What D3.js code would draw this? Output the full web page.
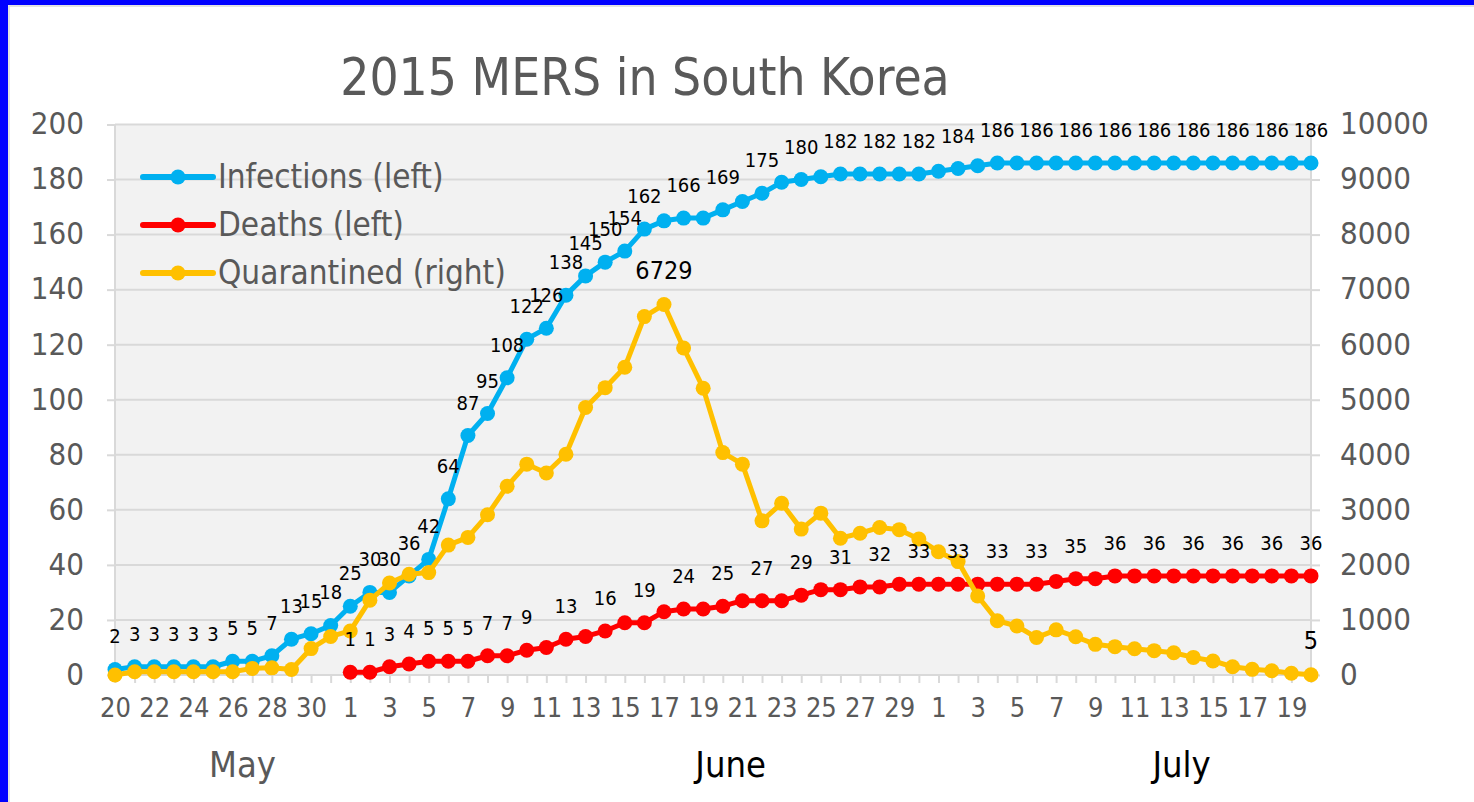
<!DOCTYPE html>
<html>
<head>
<meta charset="utf-8">
<script src="https://cdn.jsdelivr.net/npm/d3@7"></script>
<style>
    body { margin: 0; background: #fff; }
    svg text { font-family: "DejaVu Sans Condensed", "DejaVu Sans", sans-serif; font-stretch: condensed; }
</style>
</head>
<body>
<script>
// category axis: one entry per day, May 20 .. July 20
const days = [20, 21, 22, 23, 24, 25, 26, 27, 28, 29, 30, 31,
    1, 2, 3, 4, 5, 6, 7, 8, 9, 10, 11, 12, 13, 14, 15, 16, 17, 18, 19, 20,
    21, 22, 23, 24, 25, 26, 27, 28, 29, 30,
    1, 2, 3, 4, 5, 6, 7, 8, 9, 10, 11, 12, 13, 14, 15, 16, 17, 18, 19, 20];
const months = ["May", "June", "July"];

const infections = [2, 3, 3, 3, 3, 3, 5, 5, 7, 13, 15, 18,
    25, 30, 30, 36, 42, 64, 87, 95, 108, 122, 126, 138, 145, 150, 154, 162, 165, 166, 166, 169,
    172, 175, 179, 180, 181, 182, 182, 182, 182, 182,
    183, 184, 185, 186, 186, 186, 186, 186, 186, 186, 186, 186, 186, 186, 186, 186, 186, 186, 186, 186];
const deaths = [null, null, null, null, null, null, null, null, null, null, null, null,
    1, 1, 3, 4, 5, 5, 5, 7, 7, 9, 10, 13, 14, 16, 19, 19, 23, 24, 24, 25,
    27, 27, 27, 29, 31, 31, 32, 32, 33, 33,
    33, 33, 33, 33, 33, 33, 34, 35, 35, 36, 36, 36, 36, 36, 36, 36, 36, 36, 36, 36];
const quarantined = [0, 60, 60, 60, 60, 60, 60, 120, 130, 100, 480, 700,
    800, 1360, 1670, 1830, 1860, 2360, 2500, 2910, 3430, 3830, 3670, 4010, 4860, 5220, 5590, 6510, 6729, 5940, 5210, 4040,
    3830, 2800, 3120, 2650, 2940, 2485, 2575, 2680, 2640, 2470,
    2240, 2060, 1435, 986, 890, 680, 820, 695, 557, 515, 478, 442, 405, 320, 255, 150, 103, 78, 31, 5];

const leftTicks = [0, 20, 40, 60, 80, 100, 120, 140, 160, 180, 200];
const rightTicks = [0, 1000, 2000, 3000, 4000, 5000, 6000, 7000, 8000, 9000, 10000];

const W = 1474, H = 802;
const plot = { left: 115, right: 1311, top: 124.5, bottom: 675 };
const monthAnchor = [6.5, 31.4, 54.4];   // where the month captions sit, in day index
const monthColor = ["#595959", "#000", "#000"];

const series = [
    { name: "Infections (left)", values: infections, color: "#00b0f0", axis: "left",
      label: i => i <= 27 || i % 2 === 1, labelSize: 20 },
    { name: "Deaths (left)", values: deaths, color: "#ff0000", axis: "left",
      label: i => (i >= 12 && i <= 21) || (i >= 23 && i % 2 === 1), labelSize: 20 },
    { name: "Quarantined (right)", values: quarantined, color: "#ffc000", axis: "right",
      label: i => i === 28 || i === 61, labelSize: 25 }
];

let svg = d3.select("body").append("svg").attr("width", W).attr("height", H);

// frame: blue edge and thin chart border
svg.append("rect").attr("x", 9).attr("y", 6).attr("width", W).attr("height", H)
    .attr("fill", "#fff").attr("stroke", "#d9d9d9").attr("stroke-width", 1.5);
svg.append("rect").attr("x", 0).attr("y", 0).attr("width", 8).attr("height", H).attr("fill", "#0000ff");
svg.append("rect").attr("x", 0).attr("y", 0).attr("width", W).attr("height", 5).attr("fill", "#0000ff");

let x = d3.scaleLinear().domain([0, days.length - 1]).range([plot.left, plot.right]);
let yLeft = d3.scaleLinear().domain([0, 200]).range([plot.bottom, plot.top]);
let yRight = d3.scaleLinear().domain([0, 10000]).range([plot.bottom, plot.top]);

svg.append("rect")
    .attr("x", plot.left).attr("y", plot.top)
    .attr("width", plot.right - plot.left).attr("height", plot.bottom - plot.top)
    .attr("fill", "#f2f2f2");

// title
svg.append("text")
    .attr("x", 645).attr("y", 95)
    .attr("text-anchor", "middle")
    .attr("fill", "#595959")
    .style("font-size", "51px")
    .text("2015 MERS in South Korea");

function styleAxis(g) {
    g.select(".domain").remove();
    g.selectAll("line").attr("stroke", "#d9d9d9").attr("stroke-width", 2);
    g.selectAll("text").attr("fill", "#595959").style("font-size", "31px");
}

// gridlines
svg.append("g").selectAll("line").data(leftTicks).enter().append("line")
    .attr("x1", plot.left).attr("x2", plot.right)
    .attr("y1", d => yLeft(d)).attr("y2", d => yLeft(d))
    .attr("stroke", "#d9d9d9").attr("stroke-width", 2);

svg.append("g")
    .attr("transform", `translate(${plot.left},0)`)
    .call(d3.axisLeft(yLeft).tickValues(leftTicks).tickSize(8).tickPadding(23))
    .call(styleAxis)
    .call(g => g.selectAll("text").attr("dy", "0.3em"));

svg.append("g")
    .attr("transform", `translate(${plot.right},0)`)
    .call(d3.axisRight(yRight).tickValues(rightTicks).tickSize(9).tickPadding(20).tickFormat(d3.format("d")))
    .call(styleAxis)
    .call(g => g.selectAll("text").attr("dy", "0.3em"));

// vertical edges of the plot
svg.append("line").attr("x1", plot.left).attr("x2", plot.left).attr("y1", plot.top).attr("y2", plot.bottom)
    .attr("stroke", "#d9d9d9").attr("stroke-width", 2);
svg.append("line").attr("x1", plot.right).attr("x2", plot.right).attr("y1", plot.top).attr("y2", plot.bottom)
    .attr("stroke", "#d9d9d9").attr("stroke-width", 2);

svg.append("g")
    .attr("transform", `translate(0,${plot.bottom})`)
    .call(d3.axisBottom(x).tickValues(d3.range(days.length)).tickSize(8).tickPadding(15)
        .tickFormat(i => i % 2 === 0 ? days[i] : ""))
    .call(styleAxis)
    .call(g => g.selectAll("text").style("font-size", "27px"));

// month captions
svg.append("g").selectAll("text").data(months).enter().append("text")
    .attr("x", (d, i) => x(monthAnchor[i]))
    .attr("y", 777)
    .attr("text-anchor", "middle")
    .attr("fill", (d, i) => monthColor[i])
    .style("font-size", "36px")
    .text(d => d);

// lines and markers
for (let s of series) {
    let y = s.axis === "left" ? yLeft : yRight;
    let pts = s.values.map((v, i) => ({ i, v })).filter(d => d.v !== null);
    let g = svg.append("g");
    g.append("path")
        .datum(pts)
        .attr("fill", "none")
        .attr("stroke", s.color)
        .attr("stroke-width", 5)
        .attr("stroke-linejoin", "round")
        .attr("d", d3.line().x(d => x(d.i)).y(d => y(d.v)));
    g.selectAll("circle").data(pts).enter().append("circle")
        .attr("cx", d => x(d.i)).attr("cy", d => y(d.v)).attr("r", 7.5)
        .attr("fill", s.color);
}

// data labels on top
for (let s of series) {
    let y = s.axis === "left" ? yLeft : yRight;
    let pts = s.values.map((v, i) => ({ i, v })).filter(d => d.v !== null && s.label(d.i));
    svg.append("g").selectAll("text").data(pts).enter().append("text")
        .attr("x", d => x(d.i))
        .attr("y", d => y(d.v) - 26)
        .attr("text-anchor", "middle")
        .attr("fill", "#000")
        .style("font-size", s.labelSize + "px")
        .text(d => d.v);
}

// legend
let legend = svg.append("g").selectAll("g").data(series).enter().append("g")
    .attr("transform", (d, i) => `translate(143, ${177 + i * 48})`);
legend.append("line").attr("x1", 0).attr("x2", 70)
    .attr("stroke", d => d.color).attr("stroke-width", 6).attr("stroke-linecap", "round");
legend.append("circle").attr("cx", 35).attr("r", 7.5).attr("fill", d => d.color);
legend.append("text")
    .attr("x", 75).attr("y", 11)
    .attr("fill", "#595959")
    .style("font-size", "33px")
    .text(d => d.name);
</script>
</body>
</html>
